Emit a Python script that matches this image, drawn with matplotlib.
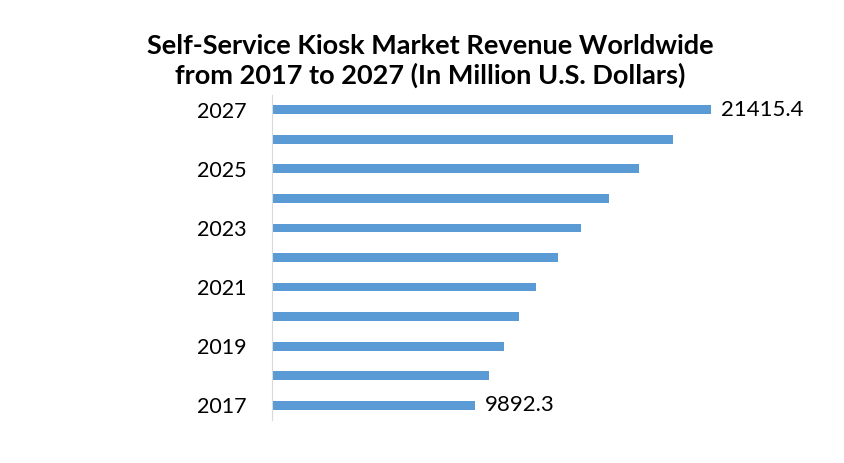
import matplotlib.pyplot as plt

# Data
years = [2017, 2018, 2019, 2020, 2021, 2022, 2023, 2024, 2025, 2026, 2027]
revenue = [9892.3, 10579, 11312, 12044, 12874, 13948, 15071, 16438, 17902, 19562, 21415.4]
year_labels = ['2017', '', '2019', '', '2021', '', '2023', '', '2025', '', '2027']

plt.rcParams['font.family'] = ['Lato', 'DejaVu Sans']

fig = plt.figure(figsize=(8.44, 4.63), dpi=100)
ax = fig.add_axes([272 / 844, 1 - 420 / 463, 528 / 844, 325 / 463])

pos = list(range(len(years)))
ax.barh(pos, revenue, height=0.3, color='#5b9bd5')

ax.set_xlim(0, 25777)
ax.set_ylim(-0.5, len(years) - 0.5)
ax.set_yticks(pos)
ax.set_yticklabels(year_labels, fontsize=15.5)
ax.tick_params(axis='y', length=0, pad=18)
ax.set_xticks([])

for s in ['top', 'right', 'bottom']:
    ax.spines[s].set_visible(False)
ax.spines['left'].set_color('#d9d9d9')

# value labels on first and last bar
for i in [0, len(years) - 1]:
    ax.text(revenue[i] + 500, pos[i], f'{revenue[i]:.1f}', va='center', ha='left', fontsize=16)

fig.text(430 / 844, 1 - 61 / 463, 'Self-Service Kiosk Market Revenue Worldwide\nfrom 2017 to 2027 (In Million U.S. Dollars)',
         ha='center', va='center', fontsize=19.5, fontweight='bold', linespacing=1.2)

fig.savefig('out.png', dpi=100)
